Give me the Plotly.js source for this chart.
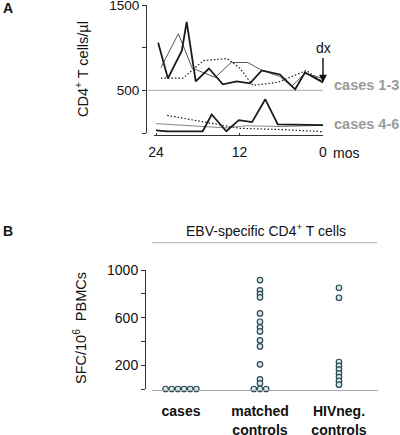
<!DOCTYPE html>
<html>
<head>
<meta charset="utf-8">
<script src="https://cdn.plot.ly/plotly-3.0.1.min.js"></script>
<style>
  html, body { margin: 0; padding: 0; background: #fff; }
  #chart { width: 400px; height: 435px; }
</style>
</head>
<body>
<div id="chart"></div>
<script>
// ---------- Panel A: CD4+ T cell counts (cells/µl) before diagnosis ----------
const case1Months = [23.7, 22.3, 20.3, 19.6, 18.3, 16.4, 14.4, 12.4, 10.5, 8.8, 6.2, 4.0, 2.6, 1.2, 0];
const case1Cd4    = [1058, 640, 965, 1302, 605, 756, 570, 605, 582, 733, 686, 512, 709, 651, 593];
const case2Months = [23.3, 20.8, 18.8, 15.5, 13.2, 10.8, 8.8, 6.2, 4.5, 2.6, 0];
const case2Cd4    = [767, 1163, 760, 651, 826, 826, 733, 663, 547, 698, 640];
const case3Months = [23.3, 20.1, 17.2, 13.8, 11.9, 10.1, 6.5, 2.4, 0];
const case3Cd4    = [643, 643, 849, 872, 756, 558, 593, 733, 593];
const case4Months = [24, 22.4, 17.3, 16.0, 13.9, 12.1, 10.2, 8.3, 6.5, 3.7, 0];
const case4Cd4    = [30, 20, 20, 217, 20, 151, 128, 395, 101, 101, 93];
const case5Months = [24, 18, 14, 11, 6, 0];
const case5Cd4    = [110, 75, 60, 85, 75, 90];
const case6Months = [22.4, 15.2, 12.0, 5.8, 0];
const case6Cd4    = [206, 105, 55, 40, 15];
const aTickVals   = [24, 12, 0];
const aTickText   = ['24', '12', '0'];
const aYTickVals  = [0, 500, 1000, 1500];
const aYTickText  = ['', '500', '', '1500'];

// ---------- Panel B: EBV-specific CD4+ T cells (SFC/10^6 PBMCs) ----------
const groups         = ['cases', 'matched controls', 'HIVneg. controls'];
const groupLabels    = ['<b>cases</b>', '<b>matched<br>controls</b>', '<b>HIVneg.<br>controls</b>'];
const casesSfc       = [0, 0, 0, 0, 0, 0];
const matchedSfc     = [915, 829, 798, 770, 635, 565, 518, 484, 409, 358, 207, 81, 48, 0, 0, 0];
const hivnegSfc      = [851, 767, 227, 195, 163, 132, 100, 68, 36];
const bYTickVals     = [0, 200, 400, 600, 800, 1000];
const bYTickText     = ['', '200', '', '600', '', '1000'];

// ---------- helpers ----------
const W = 400, H = 435;
const fx = px => px / W;
const fy = py => 1 - py / H;
const FONT = 'Liberation Sans, Arial, Helvetica, sans-serif';

// spread exact duplicates sideways (dot-plot layout)
function spread(values, center, step) {
  const counts = {}, seen = {};
  values.forEach(v => counts[v] = (counts[v] || 0) + 1);
  return values.map(v => {
    const n = counts[v];
    const i = seen[v] = (seen[v] === undefined ? 0 : seen[v] + 1);
    return center + (i - (n - 1) / 2) * step;
  });
}

const dark = '#1a1a1a';
const DOTS = '1.5px,2px';
const lineA = (x, y, width, color, dash) => ({
  type: 'scatter', mode: 'lines', x: x, y: y, xaxis: 'x', yaxis: 'y',
  line: { width: width, color: color, dash: dash || 'solid' },
  hoverinfo: 'skip', showlegend: false
});

const traces = [
  lineA(case3Months, case3Cd4, 1.2, dark, DOTS),
  lineA(case2Months, case2Cd4, 0.9, '#444'),
  lineA(case1Months, case1Cd4, 1.8, dark),
  lineA(case6Months, case6Cd4, 1.2, dark, DOTS),
  lineA(case5Months, case5Cd4, 0.9, '#777'),
  lineA(case4Months, case4Cd4, 1.8, dark)
];

const step = 0.078;
const markerB = { symbol: 'circle', size: 5.5, color: '#d6e8ec', line: { color: '#2c4a56', width: 1.2 } };
[casesSfc, matchedSfc, hivnegSfc].forEach((vals, gi) => {
  traces.push({
    type: 'scatter', mode: 'markers', name: groups[gi],
    x: spread(vals, gi + 1, step), y: vals, xaxis: 'x2', yaxis: 'y2',
    marker: markerB, cliponaxis: false, showlegend: false
  });
});

const layout = {
  width: W, height: H, autosize: false,
  margin: { l: 0, r: 0, t: 0, b: 0, pad: 0 },
  paper_bgcolor: '#fff', plot_bgcolor: 'rgba(0,0,0,0)',
  font: { family: FONT, size: 13.5, color: '#111' },
  showlegend: false,
  xaxis: {
    domain: [fx(154), fx(323)], range: [24.3, 0], anchor: 'free', position: fy(135),
    showline: true, linecolor: '#333', linewidth: 1,
    tickvals: aTickVals, ticktext: aTickText, ticks: 'inside', ticklen: 2, tickcolor: '#333',
    showgrid: false, zeroline: false, tickfont: { size: 14 }, ticklabelstandoff: 4,
    ticklabeloverflow: 'allow'
  },
  yaxis: {
    domain: [fy(133), fy(5)], range: [0, 1500], anchor: 'free', position: fx(146),
    showline: true, linecolor: '#333', linewidth: 1,
    tickvals: aYTickVals, ticktext: aYTickText, ticks: 'outside', ticklen: 4, tickcolor: '#333',
    showgrid: false, zeroline: false, tickfont: { size: 13.5 }, ticklabeloverflow: 'allow'
  },
  xaxis2: {
    domain: [fx(152), fx(378)], range: [0.633, 3.494], anchor: 'free', position: fy(389.5),
    showline: true, linecolor: '#aaa', linewidth: 1,
    tickvals: [1, 2, 3], ticktext: groupLabels, ticks: '',
    showgrid: false, zeroline: false, tickfont: { size: 14 }, ticklabelstandoff: 9,
    ticklabeloverflow: 'allow'
  },
  yaxis2: {
    domain: [fy(389), fy(270)], range: [0, 1000], anchor: 'free', position: fx(145),
    showline: true, linecolor: '#333', linewidth: 1,
    tickvals: bYTickVals, ticktext: bYTickText, ticks: 'outside', ticklen: 4, tickcolor: '#333',
    showgrid: false, zeroline: false, tickfont: { size: 14 }, ticklabeloverflow: 'allow'
  },
  shapes: [
    { type: 'line', xref: 'paper', yref: 'y', x0: fx(148), x1: fx(323), y0: 500, y1: 500,
      line: { color: '#aaa', width: 1 }, layer: 'below' },
    { type: 'line', xref: 'paper', yref: 'paper', x0: fx(152), x1: fx(377), y0: fy(242.7), y1: fy(242.7),
      line: { color: '#aaa', width: 1 } }
  ],
  annotations: [
    { text: '<b>A</b>', xref: 'paper', yref: 'paper', x: fx(1), y: fy(8), xanchor: 'left', yanchor: 'middle',
      showarrow: false, font: { size: 14 } },
    { text: '<b>B</b>', xref: 'paper', yref: 'paper', x: fx(1), y: fy(231), xanchor: 'left', yanchor: 'middle',
      showarrow: false, font: { size: 14 } },
    { text: 'CD4<sup>+</sup> T cells/µl', xref: 'paper', yref: 'paper', x: fx(82), y: fy(69),
      xanchor: 'center', yanchor: 'middle',
      textangle: -90, showarrow: false, font: { size: 14.5 } },
    { text: 'SFC/10<sup>6</sup>\u00a0 PBMCs', xref: 'paper', yref: 'paper', x: fx(80), y: fy(328),
      xanchor: 'center', yanchor: 'middle',
      textangle: -90, showarrow: false, font: { size: 14.5 } },
    { text: 'dx', xref: 'x', yref: 'y', x: 0, y: 593, ax: 0, ay: -34,
      showarrow: true, arrowhead: 2, arrowsize: 1.1, arrowwidth: 1.4, arrowcolor: '#111',
      font: { size: 14 } },
    { text: '<b>cases 1-3</b>', xref: 'paper', yref: 'paper', x: fx(332), y: fy(85), xanchor: 'left',
      yanchor: 'middle', showarrow: false, font: { size: 14.5, color: '#9a9a9a' } },
    { text: '<b>cases 4-6</b>', xref: 'paper', yref: 'paper', x: fx(332), y: fy(124), xanchor: 'left',
      yanchor: 'middle', showarrow: false, font: { size: 14.5, color: '#9a9a9a' } },
    { text: 'mos', xref: 'paper', yref: 'paper', x: fx(331), y: fy(153), xanchor: 'left',
      yanchor: 'middle', showarrow: false, font: { size: 14 } },
    { text: 'EBV-specific CD4<sup>+</sup> T cells', xref: 'paper', yref: 'paper', x: fx(266), y: fy(230),
      xanchor: 'center', yanchor: 'middle', showarrow: false, font: { size: 14 } }
  ]
};

Plotly.newPlot('chart', traces, layout, { staticPlot: true, displayModeBar: false });
</script>
</body>
</html>
